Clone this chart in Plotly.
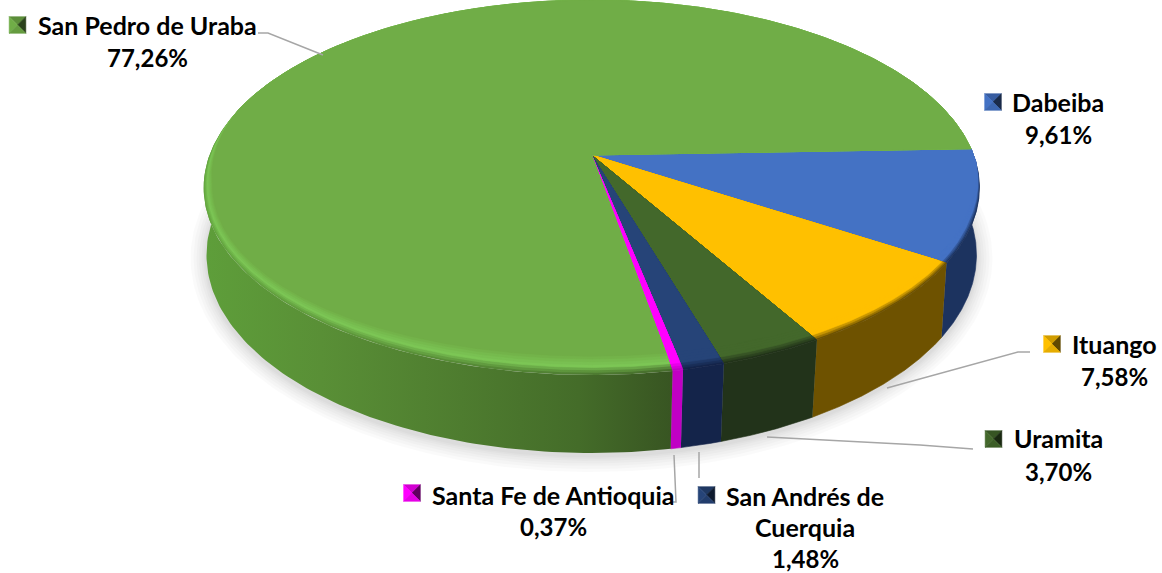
import numpy as np
import plotly.graph_objects as go

# ---- data ----
names = ["Dabeiba", "Ituango", "Uramita", "San Andrés de Cuerquia", "Santa Fe de Antioquia", "San Pedro de Uraba"]
values = [9.61, 7.58, 3.70, 1.48, 0.37, 77.26]
top_colors = ["#4472C4", "#FFC000", "#43682B", "#264478", "#FF00FF", "#70AD47"]
wall_colors = ["#1C335F", "#6E5200", "#22331A", "#14244A", "#C000C4", "#4F7F30"]
rim_colors = ["#4472C4", "#FFC000", "#43682B", "#264478", "#FF00FF", "#7CC655"]
green_wall_scale = [[0, "#5E9E3A"], [0.25, "#598F36"], [0.55, "#4E7C2F"], [0.8, "#446C29"], [1, "#385522"]]

label_lines = [["Dabeiba"], ["Ituango"], ["Uramita"], ["San Andrés de", "Cuerquia"], ["Santa Fe de Antioquia"], ["San Pedro de Uraba"]]
label_cx = [1058, 1114, 1058, 805, 553, 147]
label_y0 = [102, 344, 438, 496, 495, 25]
line_gap = [32, 32, 33, 31, 31, 32]
key_xy = [(993, 102), (1052, 344), (993.5, 439), (706.5, 495), (412, 493), (17.5, 25)]
leaders = [None,
           [(1030, 352), (1018, 352), (887, 388)],
           [(767, 437), (920, 445), (973, 449)],
           [(699, 452), (699, 478)],
           [(674, 455), (676, 502), (673, 502)],
           [(258, 33), (268, 33), (323, 55)]]

# ---- geometry of the tilted pie ----
START = -2.0
CX = 591.5
top_face = dict(cy=155.0, a=181.9, b=382.0, k=0.1733)
bot_face = dict(cy=223.8, a=193.1, b=380.2, k=0.1576)


def project(theta, r, f):
    t = np.radians(theta)
    u, v = r * np.cos(t), r * np.sin(t)
    d = 1 - f["k"] * v
    return CX + f["b"] * u / d, f["cy"] + f["a"] * v / d


def hex2rgb(c):
    return np.array([int(c[i:i + 2], 16) for i in (1, 3, 5)], float)


def mix(c1, c2, f):
    r = hex2rgb(c1) * (1 - f) + hex2rgb(c2) * f
    return "rgb(%d,%d,%d)" % tuple(r.round())


def shade(c, f):
    r = np.clip(hex2rgb(c) * f, 0, 255)
    return "rgb(%d,%d,%d)" % tuple(r.round())


def band_width(theta):
    th = np.asarray(theta, float) % 360
    th = np.where(th > 300, th - 360, th)
    s = np.clip(np.sin(np.radians(th)), 0, 1)
    w = 0.022 + 0.05 * s ** 3
    fade_r = np.clip((th - 2) / 18, 0, 1)
    fade_l = np.clip((195 - th) / 25, 0, 1)
    return w * fade_r * fade_l


fig = go.Figure()


def poly(x, y, color=None, grad=None, line=True):
    kw = dict(fillgradient=grad) if grad else dict(fillcolor=color)
    lc = color if (color and line) else "rgba(0,0,0,0)"
    fig.add_trace(go.Scatter(x=x, y=y, mode="lines", fill="toself", hoverinfo="skip", showlegend=False,
                             line=dict(width=0.6 if line and color else 0, color=lc), **kw))


# soft shadow
tt = np.linspace(0, 360, 361)
for grow in [16, 13, 10, 7.5, 5, 3, 1.5]:
    sx, sy = project(tt, 1, bot_face)
    mx, my = CX, 255.0
    fx = (np.abs(sx - mx).max() + grow) / np.abs(sx - mx).max()
    fy = (np.abs(sy - my).max() + grow) / np.abs(sy - my).max()
    poly(mx + (sx - mx) * fx, my + 3 + (sy - my) * fy, color="rgba(0,0,0,0.018)", line=False)

# angular limits of every slice
edges = START + np.concatenate([[0], np.cumsum(values)]) * 3.6
GREEN = len(values) - 1
wall_grad = dict(type="horizontal", colorscale=green_wall_scale, start=205, stop=672)

# walls
for i in range(len(values)):
    a0, a1 = edges[i], edges[i + 1]
    if a1 > 200:
        a1 = 200.0
    th = np.linspace(a0, a1, 120)
    x1, y1 = project(th, 1, top_face)
    x2, y2 = project(th[::-1], 1, bot_face)
    xs, ys = np.concatenate([x1, x2]), np.concatenate([y1, y2])
    if i == GREEN:
        poly(xs, ys, grad=wall_grad)
    else:
        poly(xs, ys, color=wall_colors[i])

# top face, painted from the outer rim inwards
stops = [0.0, 0.12, 0.25, 0.4, 0.55, 0.7, 0.85, 1.0]
for i in range(len(values)):
    th = np.linspace(edges[i], edges[i + 1], max(60, int((edges[i + 1] - edges[i]) * 3)))
    for t in stops:
        r = 1 - band_width(th) * t
        x, y = project(th, r, top_face)
        xs = np.concatenate([[CX], x, [CX]])
        ys = np.concatenate([[top_face["cy"]], y, [top_face["cy"]]])
        if i == GREEN and t < 0.4:
            # the rim of the big slice melts from the shaded wall into its highlight
            f = 0.2 + 0.8 * t / 0.4
            scale = [[p, mix(c, rim_colors[i], f)] for p, c in green_wall_scale]
            poly(xs, ys, grad=dict(type="horizontal", colorscale=scale, start=205, stop=672))
            continue
        if t < 0.4:
            col = mix(wall_colors[i], rim_colors[i], t / 0.4)
        else:
            col = mix(rim_colors[i], top_colors[i], (t - 0.4) / 0.6)
        poly(xs, ys, color=col)

# leader lines
for pts in leaders:
    if pts:
        fig.add_trace(go.Scatter(x=[p[0] for p in pts], y=[p[1] for p in pts], mode="lines", hoverinfo="skip",
                                 showlegend=False, line=dict(color="#A6A6A6", width=1.5)))

# legend-like keys with a pyramid bevel
KH = 8.3
for (kx, ky), c in zip(key_xy, top_colors):
    L, R, T, B = kx - KH, kx + KH, ky - KH, ky + KH
    faces = [([L, R, kx], [T, T, ky], 0.82), ([L, L, kx], [T, B, ky], 1.0),
             ([R, R, kx], [T, B, ky], 0.38), ([L, R, kx], [B, B, ky], 0.9)]
    for fx, fy, f in faces:
        poly(fx + fx[:1], fy + fy[:1], color=shade(c, f))

# labels
annots = []
for i, lines in enumerate(label_lines):
    txts = lines + [f"{values[i]:.2f}".replace(".", ",") + "%"]
    for j, s in enumerate(txts):
        annots.append(dict(x=label_cx[i], y=label_y0[i] + j * line_gap[i], text=s, showarrow=False,
                           xanchor="center", yanchor="middle", xref="x", yref="y",
                           font=dict(family="Lato", size=24 if j == len(txts) - 1 else 25,
                                     color="#000000", weight="bold")))

fig.update_layout(width=1162, height=573, margin=dict(l=0, r=0, t=0, b=0), paper_bgcolor="white",
                  plot_bgcolor="white", showlegend=False, annotations=annots,
                  xaxis=dict(range=[0, 1162], visible=False, fixedrange=True),
                  yaxis=dict(range=[573, 0], visible=False, fixedrange=True))

fig.write_html("out.html", config={"displayModeBar": False},
               post_script="document.body.style.margin='0';document.body.style.overflow='hidden';")
